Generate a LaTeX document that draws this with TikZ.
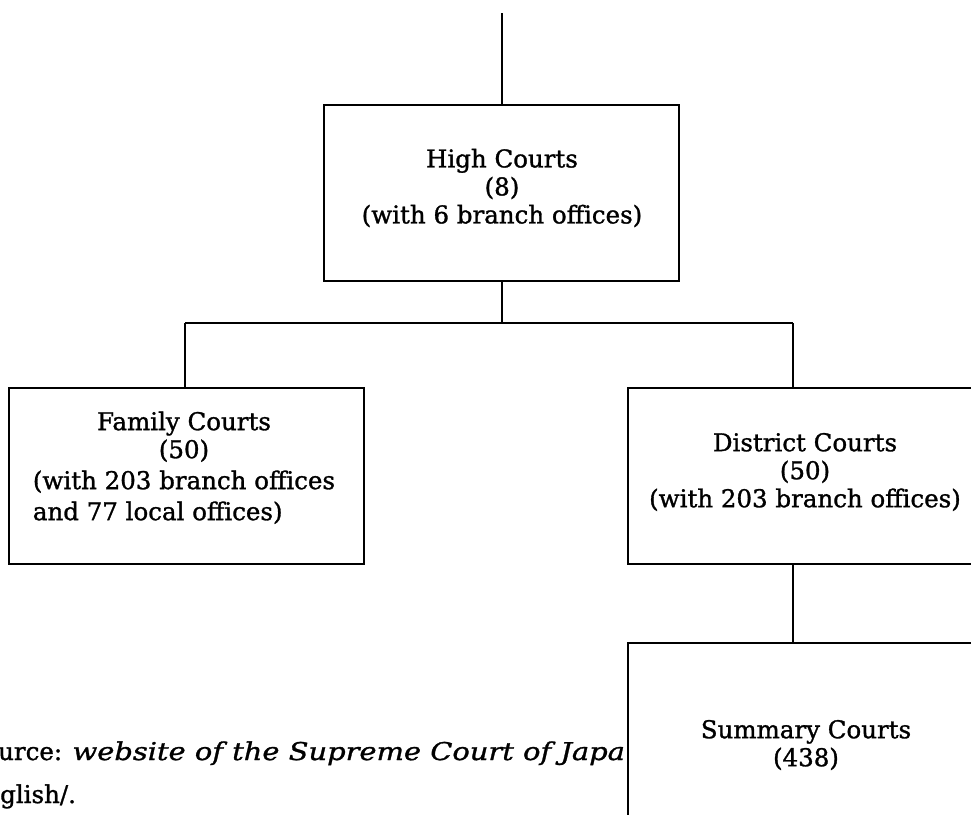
\documentclass[tikz,border=0pt]{standalone}
\usepackage{fontspec}
\setmainfont{DejaVu Serif}[FakeBold=1.2]
\begin{document}
\begin{tikzpicture}[x=1pt,y=-1pt,
  box/.style={draw=black,line width=1.6pt,fill=white,minimum width=355pt,inner sep=0pt},
  txt/.style={inner sep=0pt,align=center,font=\fontsize{24.5}{28}\selectfont},
  conn/.style={draw=black,line width=1.4pt}]
\useasboundingbox (0,0) rectangle (971,814);
% source line (partly hidden)
\node[inner sep=0pt,anchor=base west,font=\fontsize{24.5}{28}\selectfont] (src1) at (-2,760) {urce: \textit{\addfontfeatures{FakeStretch=1.18}website of the Supreme Court of Japa}};
\node[inner sep=0pt,anchor=base west,font=\fontsize{24.5}{28}\selectfont] (src2) at (0,803) {glish/.};
% boxes
\node[box,minimum height=176pt] (high) at (501.5,193) {};
\node[box,minimum height=176pt] (family) at (186.5,476) {};
\node[box,minimum height=176pt] (district) at (805.5,476) {};
\node[box,minimum height=176pt] (summary) at (805.5,731) {};
% texts
\node[txt] (hight) at (502,188) {High Courts\\(8)\\(with 6 branch offices)};
\node[txt] (familyt) at (184,470) {Family Courts\\(50)\\[3pt]
  \begin{tabular}[t]{@{}l@{}}(with 203 branch offices\\[3pt]and 77 local offices)\end{tabular}};
\node[txt] (districtt) at (805,472) {District Courts\\(50)\\(with 203 branch offices)};
\node[txt] (summaryt) at (806,745) {Summary Courts\\(438)};
% connectors
\coordinate (top) at (502,13);
\coordinate (jm) at (502,323);
\coordinate (jl) at (185,323);
\coordinate (jr) at (793,323);
\draw[conn] (top) -- (high.north -| top);
\draw[conn] (high.south -| top) -- (jm);
\draw[conn] (jl) -- (jr);
\draw[conn] (jl) -- (jl |- family.north);
\draw[conn] (jr) -- (jr |- district.north);
\draw[conn] (jr |- district.south) -- (jr |- summary.north);
\end{tikzpicture}
\end{document}
